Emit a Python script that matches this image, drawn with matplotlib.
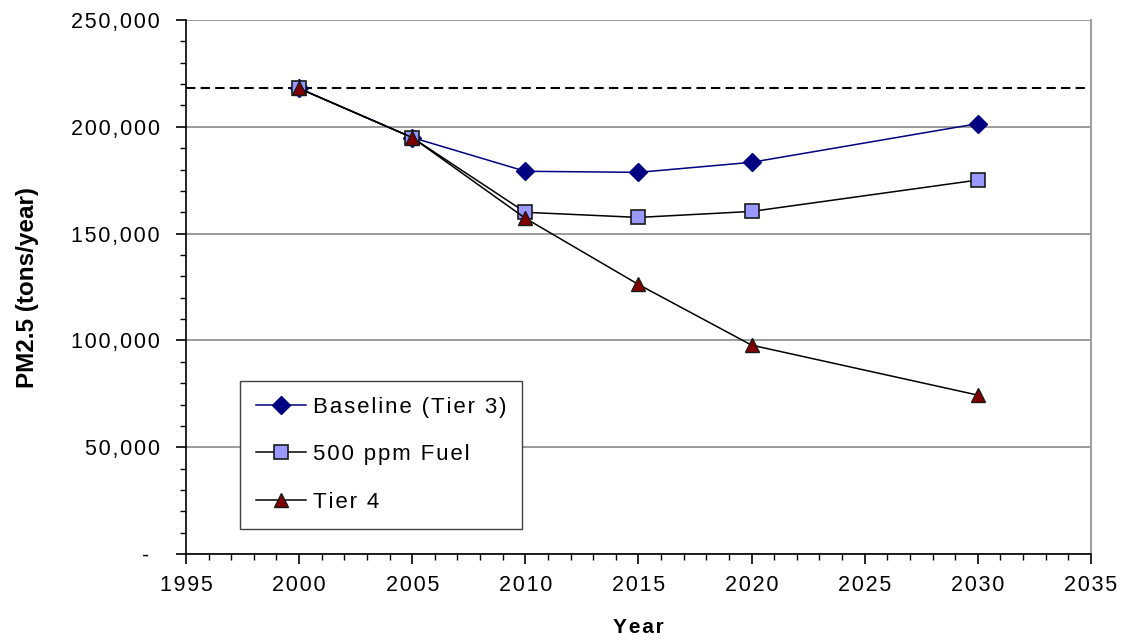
import matplotlib.pyplot as plt
import numpy as np
from matplotlib.ticker import FuncFormatter, MultipleLocator

plt.rcParams['font.family'] = ['Liberation Sans', 'DejaVu Sans']

years = [2000, 2005, 2010, 2015, 2020, 2030]
baseline = [218000, 195000, 179200, 178700, 183400, 201500]
ppm500 = [218000, 195000, 160000, 157600, 160400, 175100]
tier4 = [218000, 195000, 157200, 126200, 97800, 74400]
ref_level = 218000
names = ['Baseline (Tier 3)', '500 ppm Fuel', 'Tier 4']

HS = '\u200a'   # hair space, the original text is spread out a little

def track(s):
    return HS.join(s)

def yfmt(v, p):
    if v == 0:
        return '-' + HS * 6
    return track(f'{int(v):,}')

fig = plt.figure(figsize=(11.27, 6.41), dpi=100)
ax = fig.add_axes([0.165, 0.1357, 0.803, 0.833])

ax.axhline(ref_level, color='k', lw=1.5, ls=(0, (4.5, 2.5)), zorder=2)

ax.plot(years, baseline, color='#000080', lw=1.1, marker='D', ms=9,
        mfc='#000080', mec='#000080', label=track(names[0]), zorder=3)
ax.plot(years, ppm500, color='k', lw=1.1, marker='s', ms=9.5,
        mfc='#9999FF', mec='#1a1a1a', mew=1.2, label=track(names[1]), zorder=3)
ax.plot(years, tier4, color='k', lw=1.1, marker='^', ms=10,
        mfc='#800000', mec='#1a1a1a', mew=1.0, label=track(names[2]), zorder=4)

ax.set_xlim(1995, 2035)
ax.set_ylim(0, 250000)
ax.xaxis.set_major_locator(MultipleLocator(5))
ax.xaxis.set_minor_locator(MultipleLocator(1))
ax.yaxis.set_major_locator(MultipleLocator(50000))
ax.yaxis.set_minor_locator(MultipleLocator(10000))
ax.yaxis.set_major_formatter(FuncFormatter(yfmt))
ax.xaxis.set_major_formatter(FuncFormatter(lambda v, p: track(str(int(v)))))

ax.grid(axis='y', which='major', color='#808080', lw=1.1)
ax.set_axisbelow(True)
ax.spines['top'].set_visible(False)
ax.spines['right'].set_color('#a0a0a0')
ax.spines['right'].set_linewidth(1.5)
ax.spines['left'].set_linewidth(1.2)
ax.spines['bottom'].set_linewidth(1.2)

ax.tick_params(which='major', length=7, width=1.2, labelsize=15.5)
ax.tick_params(axis='x', which='major', pad=8)
ax.tick_params(axis='y', which='major', pad=12)
ax.tick_params(which='minor', length=4, width=1.0)

ax.set_xlabel(track('Year'), fontsize=15, fontweight='bold', labelpad=16)
ax.set_ylabel('PM2.5 (tons/year)', fontsize=17.5, fontweight='bold', labelpad=23)

leg = ax.legend(loc='lower left', bbox_to_anchor=(0.0597, 0.047), fontsize=16,
                fancybox=False, framealpha=1, edgecolor='#404040',
                handlelength=2.25, labelspacing=1.2, borderpad=0.72,
                handletextpad=0.3, borderaxespad=0)
leg.get_frame().set_linewidth(1.0)

fig.savefig('out.png', dpi=100)
